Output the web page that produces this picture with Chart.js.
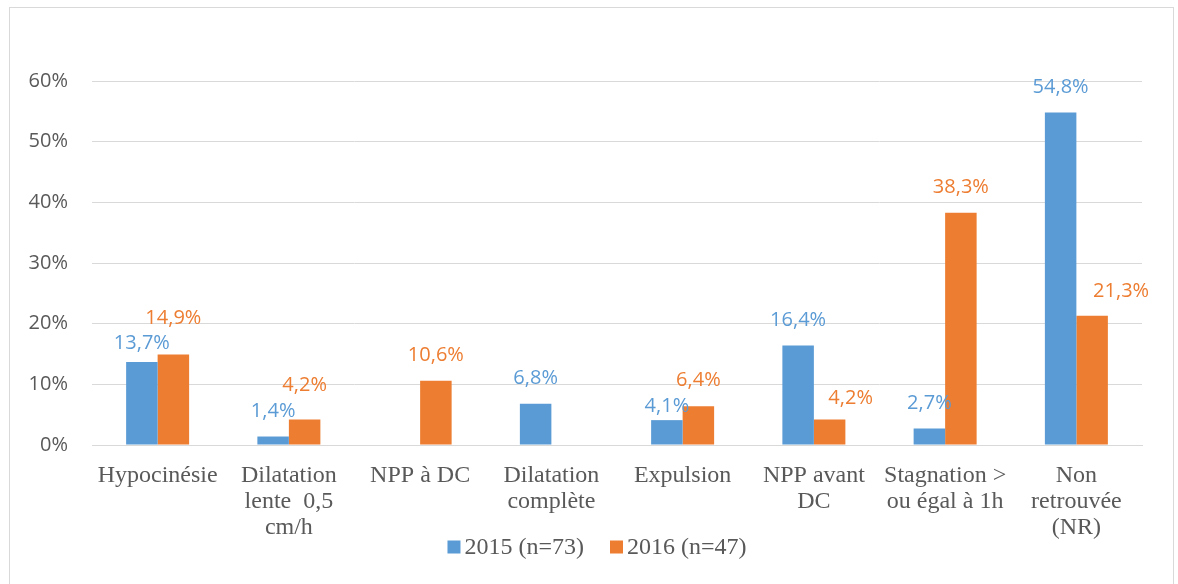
<!DOCTYPE html>
<html>
<head>
<meta charset="utf-8">
<script src="https://cdn.jsdelivr.net/npm/chart.js@4/dist/chart.umd.min.js"></script>
<style>
  html, body { margin: 0; padding: 0; background: #fff; overflow: hidden; }
  #cadre { position: absolute; left: 9px; top: 7px; width: 1163px; height: 620px; border: 1px solid #d9d9d9; }
  #graphique { position: absolute; left: 0; top: 0; }
</style>
</head>
<body>
<div id="cadre"></div>
<canvas id="graphique" width="1178" height="584"></canvas>
<script>
// Données du graphique
const categories = [
    ['Hypocinésie'],
    ['Dilatation', 'lente  0,5', 'cm/h'],
    ['NPP à DC'],
    ['Dilatation', 'complète'],
    ['Expulsion'],
    ['NPP avant', 'DC'],
    ['Stagnation >', 'ou égal à 1h'],
    ['Non', 'retrouvée', '(NR)']
];
const valeurs2015 = [13.7, 1.4, null, 6.8, 4.1, 16.4, 2.7, 54.8];
const valeurs2016 = [14.9, 4.2, 10.6, null, 6.4, 4.2, 38.3, 21.3];
const serieLabels = ['2015 (n=73)', '2016 (n=47)'];
const yTicks = [0, 10, 20, 30, 40, 50, 60];

// Couleurs
const bleu = '#5B9BD5';
const orange = '#ED7D31';
const gris = '#595959';
const grille = '#D9D9D9';

// Petits décalages manuels des étiquettes (comme dans le fichier Excel)
const decalages = [
    { 0: [0, 7], 4: [0, 12] },
    { 0: [0, -11], 1: [0, -9], 5: [21, 4], 7: [29, 1] }
];

function formatPct(v) {
    return v.toFixed(1).replace('.', ',') + '%';
}

// Étiquettes de données au-dessus des barres
const etiquettesPlugin = {
    id: 'etiquettes',
    afterDatasetsDraw(chart) {
        const ctx = chart.ctx;
        ctx.save();
        ctx.font = '20px "Open Sans"';
        ctx.textAlign = 'center';
        ctx.textBaseline = 'alphabetic';
        chart.data.datasets.forEach((ds, i) => {
            const meta = chart.getDatasetMeta(i);
            ctx.fillStyle = ds.backgroundColor;
            meta.data.forEach((bar, j) => {
                const v = ds.data[j];
                if (v === null || v === undefined) return;
                const d = (decalages[i] && decalages[i][j]) || [0, 0];
                ctx.fillText(formatPct(v), bar.x + d[0], bar.y - 20 + d[1]);
            });
        });
        ctx.restore();
    }
};

// Légende dessinée en bas
const legendePlugin = {
    id: 'legendeBas',
    afterDraw(chart) {
        const ctx = chart.ctx;
        ctx.save();
        ctx.font = '24px "Liberation Serif"';
        ctx.textBaseline = 'middle';
        ctx.textAlign = 'left';
        const carre = 13, ecart = 4, entre = 26;
        const items = chart.data.datasets.map(ds => ({
            texte: ds.label,
            couleur: ds.backgroundColor,
            largeur: carre + ecart + ctx.measureText(ds.label).width
        }));
        const total = items.reduce((s, it) => s + it.largeur, 0) + entre * (items.length - 1);
        let x = 597 - total / 2;
        const y = 548;
        items.forEach(it => {
            ctx.fillStyle = it.couleur;
            ctx.fillRect(x, y - carre / 2 - 1, carre, carre);
            ctx.fillStyle = gris;
            ctx.fillText(it.texte, x + carre + ecart, y);
            x += it.largeur + entre;
        });
        ctx.restore();
    }
};

document.addEventListener('DOMContentLoaded', function() {
    const ctx = document.getElementById('graphique').getContext('2d');
    new Chart(ctx, {
        type: 'bar',
        data: {
            labels: categories,
            datasets: [
                { label: serieLabels[0], data: valeurs2015, backgroundColor: bleu, borderWidth: 0 },
                { label: serieLabels[1], data: valeurs2016, backgroundColor: orange, borderWidth: 0 }
            ]
        },
        options: {
            responsive: false,
            devicePixelRatio: 1,
            animation: false,
            datasets: {
                bar: { categoryPercentage: 0.48, barPercentage: 1 }
            },
            layout: {
                padding: { left: 0, top: 81, right: 36, bottom: 0 }
            },
            plugins: {
                legend: { display: false },
                tooltip: { enabled: false }
            },
            scales: {
                x: {
                    grid: { display: false, drawTicks: false },
                    border: { color: grille, width: 1 },
                    ticks: {
                        autoSkip: false,
                        maxRotation: 0,
                        minRotation: 0,
                        padding: 18,
                        color: gris,
                        font: { family: '"Liberation Serif"', size: 24, lineHeight: '26px' }
                    },
                    afterFit(scale) { scale.height = 139; }
                },
                y: {
                    min: 0,
                    max: 60,
                    afterBuildTicks(scale) {
                        scale.ticks = yTicks.map(v => ({ value: v }));
                    },
                    grid: { color: grille, lineWidth: 1, drawTicks: false },
                    border: { display: false },
                    ticks: {
                        padding: 24,
                        color: gris,
                        font: { family: '"Open Sans"', size: 20 },
                        callback: v => v + '%'
                    },
                    afterFit(scale) { scale.width = 92; }
                }
            }
        },
        plugins: [etiquettesPlugin, legendePlugin]
    });
});
</script>
</body>
</html>
